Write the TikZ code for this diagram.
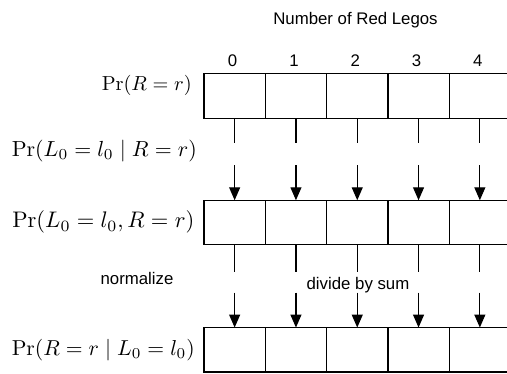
\documentclass[tikz,border=0pt]{standalone}
\usepackage{graphicx}
\usepackage{fontspec}
\setsansfont{Liberation Sans}
\usetikzlibrary{arrows.meta,calc}
\newcommand{\mlab}[2]{\resizebox{#1pt}{!}{$#2$}}
\begin{document}
\begin{tikzpicture}[x=1pt,y=-1pt,
  cell/.style={draw,line width=1.2pt,minimum width=61.3pt,minimum height=44.5pt,inner sep=0pt,outer sep=0pt},
  lbl/.style={font=\sffamily\fontsize{16.8}{18}\selectfont,inner sep=0pt},
  mlbl/.style={inner sep=0pt,anchor=east},
  conn/.style={line width=1.2pt},
  arr/.style={line width=1.2pt,-{Triangle[length=13pt,width=11pt]}}]
\useasboundingbox (0,0) rectangle (507,373);
\clip (0,0) rectangle (507,373);
\foreach \i in {0,...,4}{
  \node[cell] (a\i) at ({204+61.3*(\i+0.5)},96) {};
  \node[cell] (b\i) at ({204+61.3*(\i+0.5)},222.5) {};
  \node[cell] (c\i) at ({204+61.3*(\i+0.5)},349.8) {};
  \node[lbl] (n\i) at ({202+61.3*(\i+0.5)},61) {\i};
  \coordinate (p\i) at ($(a\i.south)+(0,25)$);
  \coordinate (q\i) at ($(b\i.north)+(0,-35)$);
  \coordinate (s\i) at ($(b\i.south)+(0,27)$);
  \coordinate (t\i) at ($(c\i.north)+(0,-35)$);
  \draw[conn] (a\i.south) -- (p\i);
  \draw[arr] (q\i) -- (b\i.north);
  \draw[conn] (b\i.south) -- (s\i);
  \draw[arr] (t\i) -- (c\i.north);
}
\node[lbl] (title) at (355.5,20) {Number of Red Legos};
\node[lbl] (norm) at (137,278) {normalize};
\node[lbl] (div) at (358,285) {divide by sum};
\node[mlbl] (la) at (192,85) {\mlab{90}{\Pr(R=r)}};
\node[mlbl] (lb) at (197,151) {\mlab{185}{\Pr(L_0=l_0 \mid R=r)}};
\node[mlbl] (lc) at (194.5,222) {\mlab{182}{\Pr(L_0=l_0, R=r)}};
\node[mlbl] (ld) at (195,350) {\mlab{183}{\Pr(R=r \mid L_0=l_0)}};
\end{tikzpicture}
\end{document}
